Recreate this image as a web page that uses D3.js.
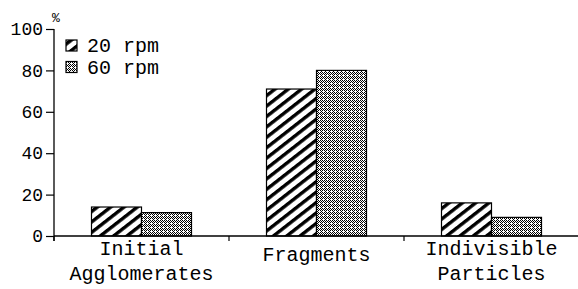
<!DOCTYPE html>
<html><head><meta charset="utf-8">
<script src="https://cdn.jsdelivr.net/npm/d3@7"></script>
<style>body{margin:0;background:#fff}svg{display:block}text{font-family:"Liberation Mono","Courier New",monospace;fill:#000}</style>
</head><body>
<script>
const categories = [["Initial","Agglomerates"],["Fragments"],["Indivisible","Particles"]];
const seriesNames = ["20 rpm","60 rpm"];
const rpm20 = [14, 71, 16];
const rpm60 = [11.3, 80, 9];
const yTicks = [0,20,40,60,80,100];

const W=578,H=289;
const svg=d3.select("body").append("svg").attr("width",W).attr("height",H);
const defs=svg.append("defs");
// diagonal stripes
const p1=defs.append("pattern").attr("id","diag").attr("patternUnits","userSpaceOnUse")
  .attr("width",8.2).attr("height",8.2).attr("patternTransform","rotate(52)");
p1.append("rect").attr("width",8.2).attr("height",8.2).attr("fill","#fff");
p1.append("rect").attr("x",0).attr("width",3.4).attr("height",8.2).attr("fill","#000");
// checker-like crosshatch
const p2=defs.append("pattern").attr("id","cross").attr("patternUnits","userSpaceOnUse")
  .attr("width",4).attr("height",4);
p2.append("rect").attr("width",4).attr("height",4).attr("fill","#fff");
[[0,0],[2,0],[1,1],[0,2],[2,2],[1,3],[3,1]].forEach(([px,py])=>{
  p2.append("rect").attr("x",px).attr("y",py).attr("width",1).attr("height",1).attr("fill","#000");
});
const fills=["url(#diag)","url(#cross)"];

const x0=54, x1=579, y0=236, y1=29;
const x=d3.scaleBand().domain(d3.range(categories.length)).range([x0,x1]).padding(0);
const y=d3.scaleLinear().domain([0,100]).range([y0,y1]);
const bw=50;

// y axis
const ya=svg.append("g").attr("transform",`translate(${x0},0)`)
  .call(d3.axisLeft(y).tickValues(yTicks).tickSize(8).tickPadding(3));
ya.attr("font-family",null).attr("font-size",null);
ya.select(".domain").attr("d",`M0,${y1}V${y0+5}`).attr("stroke","#000").attr("stroke-width",1.3);
ya.selectAll(".tick line").attr("stroke","#000").attr("stroke-width",1.2);
ya.selectAll(".tick text").style("font-size","18px");
svg.append("text").attr("x",52).attr("y",22).style("font-size","13px").text("%");

// bars
const data=[rpm20,rpm60];
categories.forEach((c,i)=>{
  const cx=x(i)+x.bandwidth()/2;
  data.forEach((s,j)=>{
    svg.append("rect").attr("x",cx-bw+j*bw).attr("y",y(s[i])).attr("width",bw)
      .attr("height",y(0)-y(s[i])).attr("fill",fills[j]).attr("stroke","#000").attr("stroke-width",1.2);
  });
});

// x axis
svg.append("line").attr("x1",x0).attr("x2",W).attr("y1",y0).attr("y2",y0).attr("stroke","#000").attr("stroke-width",1.3);
d3.range(categories.length).forEach(i=>{
  svg.append("line").attr("x1",x(i)).attr("x2",x(i)).attr("y1",y0).attr("y2",y0+5).attr("stroke","#000").attr("stroke-width",1.2);
});
categories.forEach((c,i)=>{
  const cx=x(i)+x.bandwidth()/2;
  const t=svg.append("text").attr("text-anchor","middle").style("font-size","20px");
  if(c.length===1) t.append("tspan").attr("x",cx).attr("y",261).text(c[0]);
  else c.forEach((l,k)=>t.append("tspan").attr("x",cx).attr("y",255+k*25).text(l));
});

// legend
seriesNames.forEach((n,j)=>{
  const ly=40+j*21.5;
  svg.append("rect").attr("x",66).attr("y",ly).attr("width",11).attr("height",11)
    .attr("fill",fills[j]).attr("stroke","#000").attr("stroke-width",1.2);
  svg.append("text").attr("x",87).attr("y",ly+12).style("font-size","20px").text(n);
});
</script>
</body></html>
